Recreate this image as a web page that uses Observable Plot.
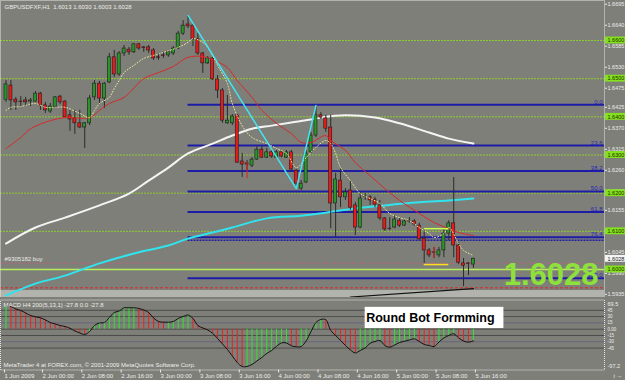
<!DOCTYPE html>
<html><head><meta charset="utf-8">
<script src="https://cdn.jsdelivr.net/npm/d3@7"></script>
<script src="https://cdn.jsdelivr.net/npm/@observablehq/plot@0.6"></script>
<style>
html,body{margin:0;padding:0;background:#7f7f79;}
#wrap{position:relative;width:625px;height:380px;overflow:hidden;background:#7f7f79;}
#main,#macd{position:absolute;left:0;}
#main{top:0;} #macd{top:297px;}
svg{display:block;}
</style></head>
<body><div id="wrap"><div id="main"></div><div id="macd"></div></div>
<script>
// ---------- data ----------
const symbolTitle = "GBPUSDFXF,H1  1.6013 1.6030 1.6003 1.6028";
const opens = [1.6445,1.6482,1.6445,1.6440,1.6443,1.6440,1.6440,1.6461,1.6430,1.6414,
1.6425,1.6453,1.6440,1.6404,1.6396,1.6383,1.6372,1.6383,1.6451,1.6487,
1.6448,1.6490,1.6556,1.6511,1.6566,1.6576,1.6569,1.6590,1.6582,1.6582,
1.6574,1.6556,1.6561,1.6561,1.6566,1.6579,1.6618,1.6642,1.6639,1.6603,
1.6566,1.6540,1.6553,1.6498,1.6469,1.6383,1.6383,1.6404,1.6283,1.6278,
1.6272,1.6288,1.6314,1.6293,1.6307,1.6293,1.6307,1.6293,1.6307,1.6259,
1.6212,1.6228,1.6307,1.6351,1.6404,1.6396,1.6372,1.6173,1.6233,1.6189,
1.6207,1.6168,1.6110,1.6191,1.6189,1.6183,1.6168,1.6134,1.6107,1.6110,
1.6128,1.6115,1.6126,1.6126,1.6115,1.6081,1.6050,1.6045,1.6037,1.6050,
1.6094,1.6121,1.6063,1.6016,1.6016,1.6013];
const highs = [1.6495,1.6495,1.6451,1.6453,1.6451,1.6448,1.6466,1.6464,1.6438,1.6435,
1.6453,1.6456,1.6443,1.6417,1.6417,1.6417,1.6385,1.6456,1.6495,1.6493,
1.6490,1.6566,1.6574,1.6571,1.6587,1.6582,1.6592,1.6592,1.6584,1.6587,
1.6579,1.6566,1.6569,1.6574,1.6584,1.6624,1.6652,1.6666,1.6645,1.6618,
1.6569,1.6558,1.6556,1.6508,1.6474,1.6456,1.6406,1.6406,1.6304,1.6286,
1.6293,1.6322,1.6322,1.6317,1.6312,1.6312,1.6312,1.6312,1.6312,1.6262,
1.6233,1.6312,1.6359,1.6430,1.6411,1.6404,1.6404,1.6252,1.6265,1.6212,
1.6233,1.6176,1.6202,1.6199,1.6194,1.6189,1.6181,1.6136,1.6136,1.6141,
1.6134,1.6131,1.6136,1.6131,1.6121,1.6107,1.6055,1.6058,1.6058,1.6107,
1.6128,1.6241,1.6071,1.6029,1.6018,1.6030];
const lows = [1.6438,1.6417,1.6417,1.6425,1.6427,1.6427,1.6438,1.6417,1.6409,1.6409,
1.6422,1.6432,1.6396,1.6362,1.6354,1.6369,1.6317,1.6377,1.6443,1.6435,
1.6422,1.6487,1.6503,1.6506,1.6558,1.6561,1.6566,1.6574,1.6569,1.6566,
1.6548,1.6548,1.6553,1.6556,1.6561,1.6576,1.6613,1.6631,1.6584,1.6561,
1.6514,1.6537,1.6495,1.6448,1.6383,1.6380,1.6377,1.6278,1.6241,1.6259,
1.6267,1.6286,1.6291,1.6291,1.6291,1.6291,1.6293,1.6291,1.6259,1.6212,
1.6207,1.6225,1.6304,1.6346,1.6393,1.6359,1.6107,1.6084,1.6162,1.6181,
1.6155,1.6089,1.6107,1.6181,1.6168,1.6162,1.6128,1.6100,1.6102,1.6107,
1.6110,1.6113,1.6121,1.6113,1.6076,1.6016,1.6031,1.6029,1.6031,1.6031,
1.6076,1.6031,1.6013,1.5955,1.5984,1.6003];
const closes = [1.6485,1.6443,1.6438,1.6439,1.6438,1.6443,1.6461,1.6430,1.6417,1.6427,
1.6451,1.6438,1.6398,1.6393,1.6383,1.6372,1.6383,1.6448,1.6487,1.6448,
1.6487,1.6556,1.6511,1.6566,1.6579,1.6569,1.6590,1.6579,1.6580,1.6574,
1.6553,1.6554,1.6559,1.6569,1.6579,1.6618,1.6639,1.6637,1.6603,1.6566,
1.6540,1.6553,1.6498,1.6469,1.6390,1.6390,1.6401,1.6280,1.6275,1.6275,
1.6288,1.6314,1.6293,1.6307,1.6296,1.6307,1.6296,1.6307,1.6262,1.6225,
1.6225,1.6304,1.6351,1.6404,1.6398,1.6369,1.6173,1.6236,1.6189,1.6202,
1.6162,1.6110,1.6186,1.6190,1.6181,1.6170,1.6134,1.6105,1.6106,1.6131,
1.6115,1.6126,1.6127,1.6118,1.6079,1.6050,1.6037,1.6044,1.6050,1.6094,
1.6121,1.6063,1.6018,1.6010,1.6014,1.6028];

const redMaIdx = [0,3,5,9,12,17,19,21,24,28,31,34,37,40,42,45,47,50,52,55,58,60,62,65,66,69,71,74,77,80,84,87,90,92,95];
const redMaVal = [1.6317,1.6346,1.6369,1.6390,1.6398,1.6398,1.6417,1.6435,1.6451,1.6500,1.6516,1.6532,1.6556,1.6558,1.6550,1.6529,1.6495,1.6451,1.6417,1.6383,1.6356,1.6333,1.6333,1.6351,1.6338,1.6312,1.6280,1.6246,1.6212,1.6181,1.6147,1.6123,1.6107,1.6097,1.6089];
const yelMaIdx = [0,1,3,6,8,10,12,15,17,18,19,21,22,23,24,26,28,30,32,35,37,38,40,41,43,45,46,48,50,53,55,57,59,61,63,65,66,67,68,70,72,74,76,78,80,82,84,86,87,89,90,92,93,95];
const yelMaVal = [1.6417,1.6425,1.6427,1.6435,1.6425,1.6425,1.6425,1.6409,1.6398,1.6417,1.6435,1.6451,1.6474,1.6495,1.6516,1.6535,1.6553,1.6561,1.6569,1.6582,1.6595,1.6605,1.6595,1.6582,1.6535,1.6487,1.6435,1.6377,1.6346,1.6330,1.6317,1.6304,1.6267,1.6293,1.6320,1.6338,1.6330,1.6304,1.6267,1.6233,1.6199,1.6186,1.6173,1.6147,1.6136,1.6128,1.6110,1.6094,1.6084,1.6094,1.6110,1.6068,1.6050,1.6037];
const whiteMaIdx = [0,6,12,19,25,29,33,37,42,46,50,54,58,62,64,69,75,80,86,90,95];
const whiteMaVal = [1.6068,1.6110,1.6136,1.6168,1.6199,1.6233,1.6267,1.6304,1.6330,1.6351,1.6369,1.6377,1.6385,1.6393,1.6398,1.6404,1.6398,1.6383,1.6359,1.6343,1.6330];
const cyanMaIdx = [0,6,12,19,26,33,37,42,46,53,60,65,71,77,84,90,95];
const cyanMaVal = [1.5932,1.5963,1.5984,1.6016,1.6042,1.6063,1.6081,1.6097,1.6110,1.6134,1.6141,1.6149,1.6160,1.6168,1.6176,1.6181,1.6186];

const trendIdx = [37, 59, 63];
const trendVal = [1.6666, 1.6212, 1.6430];
const fibStartIdx = 37;
const fibHigh = 1.6432, fibLow = 1.5977;
const fibLevels = [0, 23.6, 38.2, 50, 61.8, 76.4, 100];
const extraBlue = [1.6077];
const roundLevels = [1.6600, 1.6500, 1.6400, 1.6300, 1.6200, 1.6100];
const keyLevel = 1.6000;
const orderPrice = 1.6016, orderLabel = "#9305182 buy";
const stopPrice = 1.5952;
const arrowIdx = [49, 87], arrowLo = [1.6238, 1.6028], arrowHi = [1.6281, 1.6058];
const boxIdx = [85, 90], boxTop = 1.6107, boxBottom = 1.6013;
const bowlIdx = [70, 95], bowlVal = [1.5928, 1.5950];
const bandTop = 1.5945;
const priceTicks = [1.6695,1.6640,1.6585,1.6530,1.6475,1.6425,1.6370,1.6315,1.6260,1.6205,1.6155,1.6100,1.6045,1.5990,1.5935];

const macdTitle = "MACD H4 200(5,13,1) -27.8 0.0 -27.8";
const macdVals = [55.2,54.0,48.1,44.5,38.6,32.6,29.5,27.1,22.1,15.9,
12.4,8.8,6.4,2.1,-4.3,-9.0,-12.6,-5.5,8.8,14.8,
15.9,27.8,39.7,43.3,50.9,51.0,51.0,49.3,45.7,39.7,
26.7,18.3,16.7,16.7,18.3,25.5,30.2,33.8,25.5,8.8,
2.9,-1.9,-9.8,-22.1,-35.2,-48.3,-63.8,-79.3,-88.8,-88.8,
-84.0,-75.7,-67.4,-57.8,-50.7,-40.5,-32.8,-32.8,-39.5,-41.9,
-41.2,-28.1,-5.5,15.9,23.1,22.6,-3.1,-15.0,-26.9,-38.8,
-49.5,-56.6,-50.7,-44.7,-33.6,-29.3,-26.9,-38.8,-42.8,-37.6,
-31.7,-28.6,-25.7,-23.1,-29.3,-36.4,-38.8,-41.2,-30.5,-20.9,
-15.0,-10.9,-20.9,-28.1,-30.9,-27.8];
const macdMax = 69.5, macdMin = -97.2;
const macdLevels = [45, 30, 15, 0, -15, -30, -45];
const note = {text: "Round Bot Formming", from: 73, to: 101.2, lo: 1.5, hi: 52};
const copyright = "MetaTrader 4 at FOREX.com, © 2001-2009 MetaQuotes Software Corp.";
const dateIdx = [-0.7, 7, 15, 23, 31, 39, 47, 55, 63, 71, 79, 87, 95];
const dateLabels = ["1 Jun 2009","2 Jun 00:00","2 Jun 08:00","2 Jun 16:00","3 Jun 00:00","3 Jun 08:00","3 Jun 16:00","4 Jun 00:00","4 Jun 08:00","4 Jun 16:00","5 Jun 00:00","5 Jun 08:00","5 Jun 16:00"];

// ---------- layout ----------
const W = 625, paneW = 604, barPx = 4.92, firstPx = 5.5;
const xDomain = [-firstPx / barPx, (paneW - firstPx) / barPx];
const xEdge = (W - firstPx) / barPx;
const yDomain = [1.59267, 1.67048];
const font = "Liberation Sans, Arial, sans-serif";
const txt = "#ececec";

const bars = d3.range(opens.length).map(i => ({i, o: opens[i], h: highs[i], l: lows[i], c: closes[i]}));
const pts = (ix, vs) => ix.map((x, k) => ({x, y: vs[k]}));
const fibPrice = l => fibHigh - l / 100 * (fibHigh - fibLow);
const lastClose = closes[closes.length - 1];

const main = Plot.plot({
  width: W, height: 297, marginLeft: 0, marginRight: W - paneW, marginTop: 0, marginBottom: 0,
  x: {domain: xDomain, axis: null},
  y: {domain: yDomain, axis: null},
  style: {background: "transparent", fontFamily: font},
  marks: [
    Plot.rect([bandTop], {x1: () => xDomain[0], x2: () => xDomain[1], y1: () => yDomain[0], y2: d => d, fill: "#b3b3ad"}),
    Plot.ruleY(roundLevels, {stroke: "#8ccd2c", strokeDasharray: "2,1"}),
    Plot.ruleY([keyLevel], {stroke: "#b6ee5e", strokeWidth: 1.5}),
    Plot.ruleY([orderPrice], {stroke: "#b5667a", strokeDasharray: "4,2,1,2"}),
    Plot.ruleY([stopPrice], {stroke: "#e02424", strokeDasharray: "3,2"}),
    Plot.ruleY(fibLevels, {y: fibPrice, x1: () => fibStartIdx, x2: () => xDomain[1], stroke: "#1c1ca6", strokeWidth: 2}),
    Plot.ruleY(extraBlue, {x1: () => fibStartIdx, x2: () => xDomain[1], stroke: "#1c1ca6", strokeWidth: 1.5, strokeDasharray: "2,1"}),
    Plot.text(fibLevels, {x: () => xDomain[1], y: fibPrice, text: d => d.toFixed(1), textAnchor: "end", dx: -2, dy: -3, fill: "#2626b8", fontSize: 6}),
    Plot.line(pts(whiteMaIdx, whiteMaVal), {x: "x", y: "y", stroke: "#f4f4f4", strokeWidth: 2, curve: "catmull-rom"}),
    Plot.line(pts(cyanMaIdx, cyanMaVal), {x: "x", y: "y", stroke: "#30e4ee", strokeWidth: 2, curve: "catmull-rom"}),
    Plot.ruleX(bars, {x: "i", y1: "l", y2: "h", stroke: "#2b2b2b", strokeWidth: 1}),
    Plot.rect(bars, {x1: d => d.i - 0.31, x2: d => d.i + 0.31, y1: "o", y2: "c",
      fill: d => d.c >= d.o ? "#2a962a" : "#e81a1a", stroke: "#1c1c1c", strokeWidth: 0.6}),
    Plot.line(pts(redMaIdx, redMaVal), {x: "x", y: "y", stroke: "#d62a2a", strokeWidth: 1, curve: "catmull-rom"}),
    Plot.line(pts(yelMaIdx, yelMaVal), {x: "x", y: "y", stroke: "#e8e8a0", strokeWidth: 1, strokeDasharray: "1,2", curve: "catmull-rom"}),
    Plot.line(pts(trendIdx, trendVal), {x: "x", y: "y", stroke: "#40e6f4", strokeWidth: 1.5}),
    Plot.ruleX(arrowIdx.map((x, k) => ({x, lo: arrowLo[k], hi: arrowHi[k]})), {x: "x", y1: "lo", y2: "hi", stroke: "#e02020"}),
    Plot.ruleY([boxTop], {x1: () => boxIdx[0], x2: () => boxIdx[1], stroke: "#c8ff48", strokeWidth: 1.5}),
    Plot.ruleY([boxBottom], {x1: () => boxIdx[0], x2: () => boxIdx[1], stroke: "#ffe020", strokeWidth: 1.5}),
    Plot.line(pts(bowlIdx, bowlVal), {x: "x", y: "y", stroke: "#111", strokeWidth: 1.2}),
    Plot.text([orderLabel], {frameAnchor: "left", y: () => orderPrice, dx: 4, dy: -4, textAnchor: "start", fill: txt, fontSize: 6}),
    Plot.text([symbolTitle], {frameAnchor: "top-left", dx: 4, dy: 4, textAnchor: "start", lineAnchor: "top", fill: txt, fontSize: 6}),
    Plot.axisY({anchor: "right", ticks: priceTicks, tickFormat: d => d.toFixed(4), tickSize: 2, tickPadding: 1, fontSize: 5.5, color: txt}),
    Plot.rect(roundLevels.concat([keyLevel]), {x1: () => xDomain[1] + 0.2, x2: () => xEdge, y1: d => d - 0.0009, y2: d => d + 0.0009, fill: "#84e21c"}),
    Plot.text(roundLevels.concat([keyLevel]), {x: () => xDomain[1] + 0.2, y: d => d, text: d => d.toFixed(4), textAnchor: "start", dx: 2, fill: "#1c2c00", fontSize: 5.5}),
    Plot.rect([lastClose], {x1: () => xDomain[1] + 0.2, x2: () => xEdge, y1: d => d - 0.0009, y2: d => d + 0.0009, fill: "#f4f4f4"}),
    Plot.text([lastClose], {x: () => xDomain[1] + 0.2, y: d => d, text: d => d.toFixed(4), textAnchor: "start", dx: 2, fill: "#222", fontSize: 5.5}),
    Plot.text([lastClose], {frameAnchor: "bottom-right", text: d => d.toFixed(4), textAnchor: "end", lineAnchor: "middle", dx: -6, dy: -22, fill: "#8ee03a", fontSize: 31, fontWeight: "bold"}),
    Plot.frame({stroke: "#e6e6e6", strokeDasharray: "1,1"})
  ]
});
document.getElementById("main").appendChild(main);

const macdData = macdVals.map((v, i) => ({i, v, up: i === 0 ? true : v >= macdVals[i - 1]}));
const labelOf = new Map(dateIdx.map((d, k) => [d, dateLabels[k]]));
const macd = Plot.plot({
  width: W, height: 83, marginLeft: 0, marginRight: W - paneW, marginTop: 2.5, marginBottom: 10.5,
  x: {domain: xDomain, axis: null},
  y: {domain: [macdMin, macdMax], axis: null},
  style: {background: "transparent", fontFamily: font},
  marks: [
    Plot.ruleY(macdLevels, {stroke: d => (d === 15 || d === -30) ? "#66647e" : "#4c4c4a", strokeWidth: 1}),
    Plot.ruleX(macdData, {x: "i", y1: () => 0, y2: "v", stroke: d => d.up ? "#2ce82c" : "#ec2020", strokeWidth: 1}),
    Plot.line(macdData, {x: "i", y: "v", stroke: "#111", strokeWidth: 1, curve: "catmull-rom"}),
    Plot.rect([note], {x1: d => d.from, x2: d => d.to, y1: d => d.lo, y2: d => d.hi, fill: "#ffffff"}),
    Plot.text([note], {x: d => d.from, y: d => (d.lo + d.hi) / 2, text: "text", textAnchor: "start", dx: 1, fill: "#000", fontSize: 12.5, fontWeight: "bold"}),
    Plot.text([macdTitle], {frameAnchor: "top-left", dx: 3, dy: 3, textAnchor: "start", lineAnchor: "top", fill: txt, fontSize: 6}),
    Plot.text([copyright], {frameAnchor: "bottom-left", dx: 3, dy: -3, textAnchor: "start", lineAnchor: "bottom", fill: txt, fontSize: 6}),
    Plot.text([macdMax], {x: () => xDomain[1], y: d => d, text: d => d.toFixed(1), textAnchor: "start", dx: 3, dy: 4, fill: txt, fontSize: 5.5}),
    Plot.text([macdMin], {x: () => xDomain[1], y: d => d, text: d => d.toFixed(1), textAnchor: "start", dx: 3, dy: -4, fill: txt, fontSize: 5.5}),
    Plot.text(macdLevels, {x: () => xDomain[1], y: d => d, text: d => d === 0 ? "0.00" : String(d), textAnchor: "start", dx: 3, fill: txt, fontSize: 4.5}),
    Plot.axisX({anchor: "bottom", ticks: dateIdx, tickFormat: d => labelOf.get(d), tickSize: 3, tickPadding: 1, textAnchor: "start", dx: 2, fontSize: 6, color: txt}),
    Plot.frame({stroke: "#e6e6e6", strokeDasharray: "1,1"})
  ]
});
document.getElementById("macd").appendChild(macd);
</script>
</body></html>
